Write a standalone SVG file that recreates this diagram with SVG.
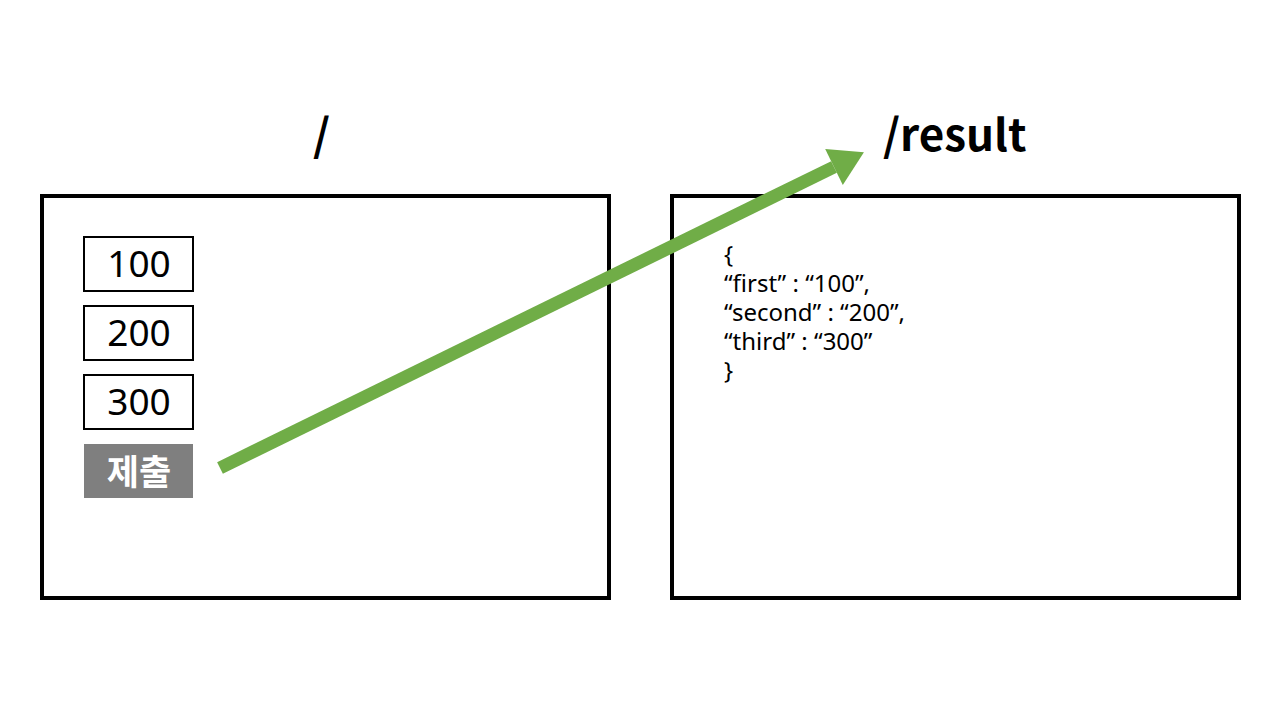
<svg xmlns="http://www.w3.org/2000/svg" width="1280" height="720" viewBox="0 0 1280 720">
<style>
.frame{fill:#fff;stroke:#000;stroke-width:4}
.box{fill:#fff;stroke:#000;stroke-width:2}
.btn{fill:#7f7f7f}
.t{font-family:"Noto Sans CJK KR","Noto Sans",sans-serif}
.l{font-family:"Noto Sans","Noto Sans CJK KR",sans-serif}
.title{font-size:44px;font-weight:bold;fill:#000}
.num{font-size:37px;fill:#000;text-anchor:middle}
.btxt{font-size:35px;font-weight:bold;fill:#fff;text-anchor:middle}
.json{font-size:24px;fill:#000}
</style>
<defs>
<marker id="ah" markerUnits="userSpaceOnUse" markerWidth="40" markerHeight="40" viewBox="0 0 30 36" refX="0" refY="18" orient="auto">
<path d="M0,0 L30,18 L0,36 Z" fill="#70ad47"/>
</marker>
</defs>
<rect width="1280" height="720" fill="#fff"/>
<g id="page-root">
<rect class="frame" x="42" y="196" width="567" height="402"/>
<text class="t title" x="313" y="151">/</text>
</g>
<g id="page-result">
<rect class="frame" x="672" y="196" width="567" height="402"/>
<text class="t title" x="883" y="151">/result</text>
<g class="l json">
<text x="724" y="263">{</text>
<text x="724" y="292">“first” : “100”,</text>
<text x="724" y="321">“second” : “200”,</text>
<text x="724" y="350">“third” : “300”</text>
<text x="724" y="379">}</text>
</g>
</g>
<g id="input-100">
<rect class="box" x="84" y="237" width="109" height="54"/>
<text class="l num" x="139" y="277">100</text>
</g>
<g id="input-200">
<rect class="box" x="84" y="306" width="109" height="54"/>
<text class="l num" x="139" y="346">200</text>
</g>
<g id="input-300">
<rect class="box" x="84" y="375" width="109" height="54"/>
<text class="l num" x="139" y="415">300</text>
</g>
<g id="submit">
<rect class="btn" x="84" y="444" width="109" height="54"/>
<text class="t btxt" x="139" y="485">제출</text>
</g>
<g id="connectors">
<line x1="220" y1="468" x2="834" y2="167" stroke="#70ad47" stroke-width="13" marker-end="url(#ah)"/>
</g>
</svg>
